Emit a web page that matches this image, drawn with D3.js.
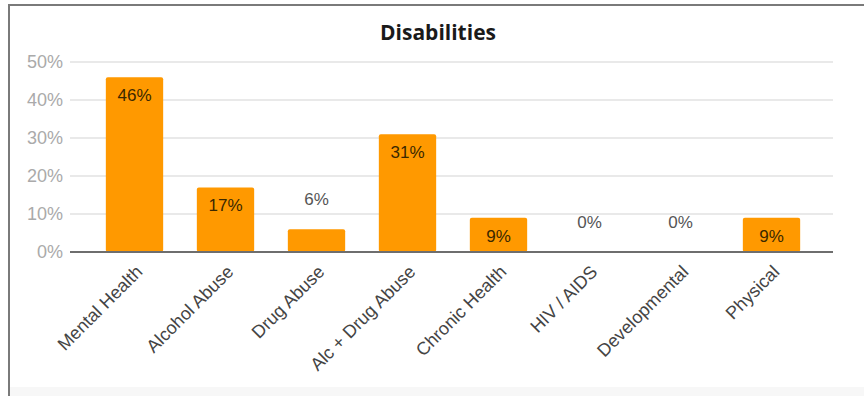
<!DOCTYPE html>
<html>
<head>
<meta charset="utf-8">
<script src="https://cdn.jsdelivr.net/npm/d3@7"></script>
<style>
  html, body { margin: 0; padding: 0; background: #fff; }
  svg { display: block; }
</style>
</head>
<body>
<svg id="chart" width="864" height="396"></svg>
<script>
// Share of clients by disability type
const categories = ["Mental Health", "Alcohol Abuse", "Drug Abuse", "Alc + Drug Abuse",
                    "Chronic Health", "HIV / AIDS", "Developmental", "Physical"];
const values = [46, 17, 6, 31, 9, 0, 0, 9];
const yTicks = [0, 10, 20, 30, 40, 50];
const title = "Disabilities";

const svg = d3.select("#chart");
const W = 864, H = 396;
const font = "'Liberation Sans', Arial, sans-serif";

// frame
svg.append("rect").attr("x", 0).attr("y", 0).attr("width", W).attr("height", H).attr("fill", "#fff");
svg.append("rect").attr("x", 9).attr("y", 387).attr("width", W - 9).attr("height", 9).attr("fill", "#f7f7f7");
svg.append("line").attr("x1", 8).attr("x2", W).attr("y1", 5).attr("y2", 5)
  .attr("stroke", "#7a7a7a").attr("stroke-width", 2);
svg.append("line").attr("x1", 9).attr("x2", 9).attr("y1", 4).attr("y2", H)
  .attr("stroke", "#7a7a7a").attr("stroke-width", 2);

const x = d3.scaleBand().domain(categories).range([89, 817]).paddingInner(0.37).paddingOuter(0.185);
const y = d3.scaleLinear().domain([0, 50]).range([252, 62]);

// title
svg.append("text").attr("x", 438).attr("y", 40).attr("text-anchor", "middle")
  .attr("font-family", "'Open Sans', 'Noto Sans', sans-serif").attr("font-weight", 700)
  .attr("font-size", 21).attr("fill", "#1a1a1a").text(title);

// gridlines
svg.append("g").selectAll("line").data(yTicks.filter(d => d > 0)).join("line")
  .attr("x1", 70).attr("x2", 833)
  .attr("y1", d => y(d)).attr("y2", d => y(d))
  .attr("stroke", "#e2e2e2").attr("stroke-width", 1.5);

// y axis labels
const yAxis = d3.axisLeft(y).tickValues(yTicks).tickFormat(d => d + "%").tickSize(0).tickPadding(0);
const gy = svg.append("g").attr("transform", "translate(63,0)").call(yAxis);
gy.select(".domain").remove();
gy.selectAll("text").attr("font-family", font).attr("font-size", 18).attr("fill", "#aaaaaa");

// bars
svg.append("g").selectAll("rect").data(values).join("rect")
  .attr("x", (d, i) => x(categories[i]))
  .attr("width", x.bandwidth())
  .attr("y", d => y(d))
  .attr("height", d => y(0) - y(d))
  .attr("rx", 2)
  .attr("fill", "#ff9900");

// baseline
svg.append("line").attr("x1", 70).attr("x2", 833).attr("y1", y(0)).attr("y2", y(0))
  .attr("stroke", "#6e6e6e").attr("stroke-width", 2);

// value labels: inside tall bars, above short ones
const inside = d => (y(0) - y(d)) > 25;
svg.append("g").selectAll("text").data(values).join("text")
  .attr("x", (d, i) => x(categories[i]) + x.bandwidth() / 2)
  .attr("y", d => inside(d) ? y(d) + 24 : y(d) - 24)
  .attr("text-anchor", "middle")
  .attr("font-family", font).attr("font-size", 17)
  .attr("fill", d => inside(d) ? "#3a2800" : "#555")
  .text(d => d + "%");

// x axis labels
const xAxis = d3.axisBottom(x).tickSize(0).tickPadding(0);
const gx = svg.append("g").attr("transform", `translate(0,${y(0)})`).call(xAxis);
gx.select(".domain").remove();
gx.selectAll("text")
  .attr("font-family", font).attr("font-size", 18).attr("fill", "#444")
  .attr("text-anchor", "end")
  .attr("dy", 0).attr("y", 0)
  .attr("transform", "translate(9,21) rotate(-45)");
</script>
</body>
</html>
